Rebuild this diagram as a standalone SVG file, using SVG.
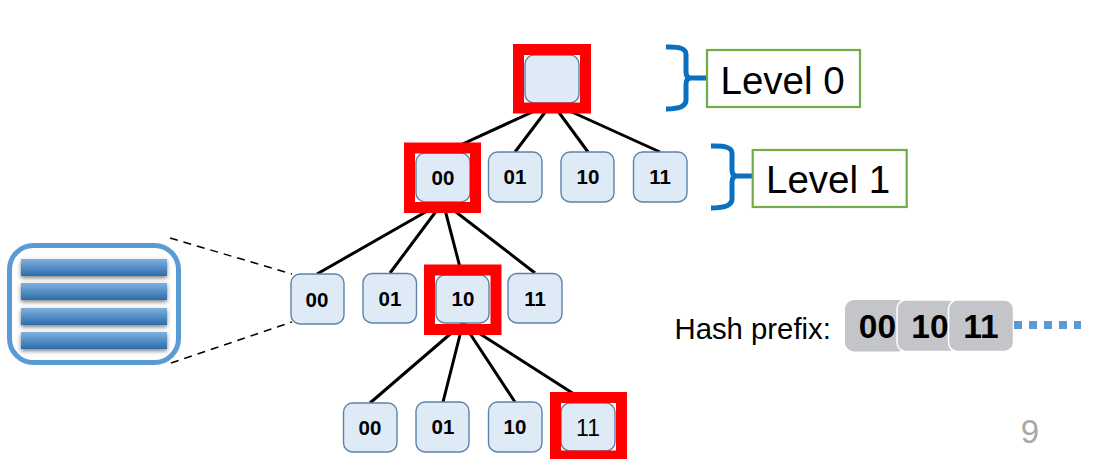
<svg xmlns="http://www.w3.org/2000/svg" width="1119" height="459" viewBox="0 0 1119 459">
<style>
text{font-family:"Liberation Sans",Arial,sans-serif;fill:#000}
.n{fill:#deeaf6;stroke:#5d82a8;stroke-width:1.4}
.l{font-size:20.5px;font-weight:bold;text-anchor:middle}
.r{fill:none;stroke:#f00;stroke-width:11}
.e{stroke:#000;stroke-width:3;fill:none}
.d{stroke:#000;stroke-width:1.5;stroke-dasharray:8 6;fill:none}
.b{fill:none;stroke:#0a70c0;stroke-width:5}
.g{fill:#fff;stroke:#70ad47;stroke-width:2.2}
.t{font-size:38.500px}
.h{fill:#c4c5c9;stroke:#fff;stroke-width:1.5}
.p{font-size:33.500px;font-weight:bold;text-anchor:middle}
.bar{fill:url(#barg)}
.sh{fill:#555;opacity:.75;filter:url(#blur)}
</style>
<defs>
<linearGradient id="barg" x1="0" y1="0" x2="0" y2="1"><stop offset="0" stop-color="#7fb1e0"/><stop offset="1" stop-color="#2c6dab"/></linearGradient>
<filter id="blur" x="-10%" y="-50%" width="120%" height="200%"><feGaussianBlur stdDeviation="2"/></filter>
</defs>
<rect width="1119" height="459" fill="#fff"/>
<g id="connectors">
<path class="e" d="M552 103L443 153M552 103L515 152M552 103L588 152M552 103L660 152"/>
<path class="e" d="M443 202L317 274M443 202L390 273M443 202L462 275M443 202L535 273"/>
<path class="e" d="M463 323L370 403M463 323L443 402M463 323L515 402M463 323L588 403"/>
<path class="d" d="M170 238L292 274M171 363L292 322"/>
</g>
<g id="root"><rect class="n" x="525" y="55" width="54" height="48" rx="9"/><rect class="r" x="518.500" y="49.500" width="67" height="58.500"/></g>
<g id="l1-00"><rect class="n" x="416" y="153" width="54" height="49" rx="9"/><text class="l" x="443" y="185">00</text><rect class="r" x="409.500" y="148" width="66" height="59.500"/></g>
<g id="l1-01"><rect class="n" x="488.500" y="152" width="53.500" height="50" rx="9"/><text class="l" x="515" y="184">01</text></g>
<g id="l1-10"><rect class="n" x="561" y="152" width="53" height="50" rx="9"/><text class="l" x="588" y="184">10</text></g>
<g id="l1-11"><rect class="n" x="633.500" y="152" width="53.500" height="50" rx="9"/><text class="l" x="660" y="184">11</text></g>
<g id="l2-00"><rect class="n" x="291" y="274" width="53" height="50" rx="9"/><text class="l" x="317" y="307">00</text></g>
<g id="l2-01"><rect class="n" x="363" y="273.500" width="53.500" height="49.500" rx="9"/><text class="l" x="390" y="305.500">01</text></g>
<g id="l2-10"><rect class="n" x="436" y="275" width="53" height="48" rx="9"/><text class="l" x="463" y="306">10</text><rect class="r" x="429.500" y="270" width="66.500" height="59.500"/></g>
<g id="l2-11"><rect class="n" x="508" y="273.500" width="54" height="49.500" rx="9"/><text class="l" x="535" y="306">11</text></g>
<g id="l3-00"><rect class="n" x="343.500" y="403" width="53.500" height="49" rx="9"/><text class="l" x="370" y="435">00</text></g>
<g id="l3-01"><rect class="n" x="416" y="402" width="53" height="50" rx="9"/><text class="l" x="443" y="434">01</text></g>
<g id="l3-10"><rect class="n" x="488.500" y="402" width="53.500" height="50" rx="9"/><text class="l" x="515" y="434">10</text></g>
<g id="l3-11"><rect class="n" x="561" y="403" width="54" height="48" rx="9"/><text x="588" y="436" style="font-size:23px;text-anchor:middle">11</text><rect class="r" x="555.500" y="397.500" width="66" height="58.500"/></g>
<g id="bucket">
<rect x="9.500" y="245.500" width="169" height="117" rx="24" fill="#fff" stroke="#5b9bd5" stroke-width="5"/>
<rect class="sh" x="21" y="261" width="146" height="17"/><rect class="sh" x="21" y="285" width="146" height="17"/><rect class="sh" x="21" y="310" width="146" height="17"/><rect class="sh" x="21" y="334" width="146" height="17"/>
<rect class="bar" x="21" y="259" width="146" height="17"/><rect class="bar" x="21" y="283" width="146" height="17"/><rect class="bar" x="21" y="308" width="146" height="17"/><rect class="bar" x="21" y="332" width="146" height="17"/>
</g>
<g id="level0">
<path class="b" d="M666 47Q686 46 686 54V72Q686 78 691 78H707M691 78Q686 78 686 84V100Q686 109 666 109"/>
<rect class="g" x="707" y="50" width="153" height="57"/><text class="t" x="720.500" y="94">Level 0</text>
</g>
<g id="level1">
<path class="b" d="M711 146Q732 145 732 153V170Q732 176 737 176H752M737 176Q732 176 732 182V199Q732 208 711 208"/>
<rect class="g" x="752.700" y="150" width="154" height="57"/><text class="t" x="766" y="193">Level 1</text>
</g>
<g id="hash-prefix">
<text x="674.500" y="339" style="font-size:29.300px">Hash prefix:</text>
<rect x="845" y="300" width="62" height="51.500" rx="9" fill="#c4c5c9"/>
<rect class="h" x="897" y="300" width="62" height="51.500" rx="9"/>
<rect class="h" x="948.500" y="300" width="65" height="51.500" rx="9"/>
<text class="p" x="877.500" y="338">00</text><text class="p" x="930" y="338">10</text><text class="p" x="981" y="338">11</text>
<path d="M1014 325H1081" fill="none" stroke="#5b9bd5" stroke-width="8" stroke-dasharray="8 7"/>
</g>
<text id="page" x="1030" y="443" style="font-size:33px;text-anchor:middle;fill:#aaa8a8">9</text>
</svg>
